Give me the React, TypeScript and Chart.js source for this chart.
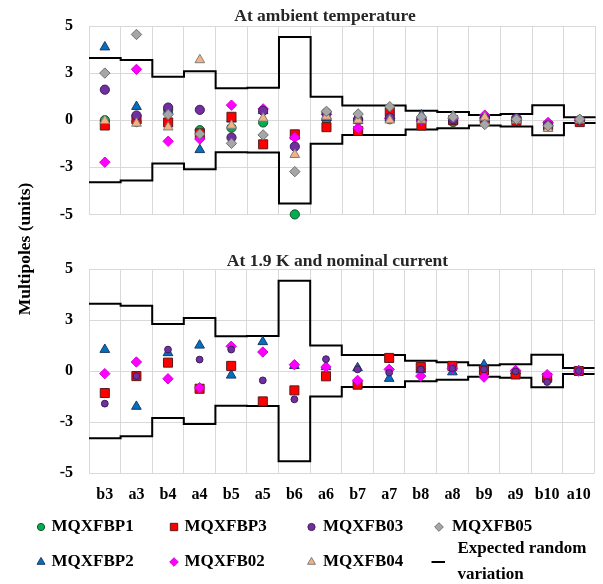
import React, { useEffect, useRef } from 'react';
import { Chart, registerables } from 'chart.js';

Chart.register(...registerables);

const FONT = '"Liberation Serif", "Times New Roman", serif';

// ---------------- data ----------------
const categories = ['b3', 'a3', 'b4', 'a4', 'b5', 'a5', 'b6', 'a6', 'b7', 'a7', 'b8', 'a8', 'b9', 'a9', 'b10', 'a10'];
const yTickValues = [-5, -2.5, 0, 2.5, 5];

// expected random variation (half-width of the band)
const expectedRandom = [3.3, 3.2, 2.3, 2.6, 1.7, 1.72, 4.42, 1.25, 0.78, 0.78, 0.5, 0.43, 0.28, 0.33, 0.8, 0.15];

// At ambient temperature
const ambMQXFBP1 = [0.0, -0.1, 0.55, -0.53, -0.4, -0.12, -5.0, 0.05, 0.0, 0.05, 0.0, -0.1, 0.1, 0.0, -0.2, 0.0];
const ambMQXFBP2 = [3.88, 0.72, 0.5, -1.57, 0.05, 0.5, -0.85, 0.13, -0.03, 0.1, 0.27, -0.05, 0.1, 0.0, -0.2, 0.0];
const ambMQXFBP3 = [-0.28, 0.05, -0.12, -0.7, 0.18, -1.28, -0.75, -0.37, -0.57, 0.45, -0.28, 0.0, 0.05, -0.03, -0.3, -0.1];
const ambMQXFB02 = [-2.23, 2.7, -1.12, -1.0, 0.8, 0.6, -0.92, 0.3, -0.42, 0.1, 0.0, 0.1, 0.27, 0.05, -0.12, 0.0];
const ambMQXFB03 = [1.62, 0.25, 0.67, 0.55, -0.92, 0.5, -1.4, 0.4, 0.05, 0.13, 0.05, 0.05, 0.1, 0.1, -0.28, 0.0];
const ambMQXFB04 = [-0.03, -0.17, -0.37, 3.2, -0.28, 0.1, -1.83, 0.2, 0.0, 0.0, 0.0, 0.22, 0.15, 0.0, -0.45, 0.0];
const ambMQXFB05 = [2.5, 4.55, 0.3, -0.73, -1.23, -0.78, -2.73, 0.47, 0.33, 0.72, 0.17, 0.17, -0.23, 0.05, -0.3, 0.05];

// At 1.9 K and nominal current
const nomMQXFBP2 = [1.05, -1.74, 0.89, 1.26, -0.21, 1.43, 0.26, 0.2, 0.15, -0.37, 0.05, -0.05, 0.3, 0.0, -0.3, 0.0];
const nomMQXFBP3 = [-1.08, -0.25, 0.41, -0.87, 0.25, -1.49, -0.95, -0.26, -0.67, 0.64, 0.2, 0.25, 0.03, -0.17, -0.33, 0.0];
const nomMQXFB02 = [-0.13, 0.44, -0.38, -0.82, 1.21, 0.93, 0.31, 0.2, -0.46, 0.08, -0.25, 0.13, -0.3, 0.03, -0.18, 0.0];
const nomMQXFB03 = [-1.6, -0.25, 1.05, 0.56, 1.05, -0.46, -1.39, 0.58, 0.08, -0.08, 0.08, 0.13, 0.08, -0.02, -0.54, 0.0];

// ---------------- styles ----------------
type Sty = { shape: string; fill: string; stroke: string; r: number; lr: number; order: number };
const ST: Record<string, Sty> = {
  MQXFBP1: { shape: 'circle', fill: '#00B050', stroke: '#1E4D2B', r: 4.6, lr: 3.6, order: 7 },
  MQXFBP2: { shape: 'triangle', fill: '#0070C0', stroke: '#1F3864', r: 5.6, lr: 4.6, order: 6 },
  MQXFBP3: { shape: 'rect', fill: '#FF0000', stroke: '#5A1A1A', r: 6.4, lr: 5.2, order: 5 },
  MQXFB02: { shape: 'rectRot', fill: '#FF00FF', stroke: '#D800D8', r: 5.2, lr: 4.3, order: 4 },
  MQXFB03: { shape: 'circle', fill: '#7030A0', stroke: '#3D1A5A', r: 4.6, lr: 3.6, order: 3 },
  MQXFB04: { shape: 'triangle', fill: '#F4B183', stroke: '#7F7F7F', r: 5.6, lr: 4.6, order: 2 },
  MQXFB05: { shape: 'rectRot', fill: '#A6A6A6', stroke: '#6F6F6F', r: 5.2, lr: 4.3, order: 1 },
};

function pointDs(label: string, data: number[], rOverride?: number) {
  const s = ST[label];
  return {
    type: 'line' as const,
    label,
    data,
    xAxisID: 'x',
    yAxisID: 'y',
    showLine: false,
    pointStyle: s.shape,
    pointRadius: rOverride ?? s.r,
    pointBackgroundColor: s.fill,
    pointBorderColor: s.stroke,
    pointBorderWidth: 1,
    clip: false as any,
    order: s.order,
  };
}

function stepDs(sign: number) {
  const pts = expectedRandom.map((v, i) => ({ x: i - 0.5, y: sign * v }));
  pts.push({ x: categories.length - 0.5, y: sign * expectedRandom[expectedRandom.length - 1] });
  return {
    type: 'line' as const,
    label: 'Expected random variation',
    data: pts,
    xAxisID: 'xl',
    yAxisID: 'y',
    stepped: 'before' as const,
    borderColor: '#000000',
    borderWidth: 2,
    pointRadius: 0,
    fill: false,
    clip: false as any,
    order: 100,
  };
}

function fmtTick(v: number) {
  const r = Math.round(Math.abs(v));
  return (v < 0 ? '-' : '') + r;
}

function makeScales(showX: boolean, xHeight: number) {
  return {
    x: {
      type: 'category' as const,
      offset: true,
      grid: { offset: true, color: '#D9D9D9', lineWidth: 1, drawTicks: false },
      border: { display: false },
      ticks: { display: showX, color: '#000', font: { family: FONT, size: 16, weight: 'bold' as const }, padding: 12, maxRotation: 0, autoSkip: false },
      afterFit: (s: any) => { s.height = xHeight; },
    },
    xl: { type: 'linear' as const, display: false, min: -0.5, max: categories.length - 0.5 },
    y: {
      type: 'linear' as const,
      min: -5,
      max: 5,
      afterBuildTicks: (s: any) => { s.ticks = yTickValues.map((v) => ({ value: v })); },
      grid: { color: '#D9D9D9', lineWidth: 1, drawTicks: false },
      border: { display: false },
      ticks: { color: '#000', font: { family: FONT, size: 16, weight: 'bold' as const }, padding: 16, callback: (v: any) => fmtTick(Number(v)) },
      afterFit: (s: any) => { s.width = 89; },
    },
  };
}

function drawMarker(ctx: CanvasRenderingContext2D, shape: string, x: number, y: number, r: number, fill: string, stroke: string) {
  ctx.save();
  ctx.beginPath();
  if (shape === 'circle') {
    ctx.arc(x, y, r, 0, Math.PI * 2);
  } else if (shape === 'rect') {
    const s = r * Math.SQRT1_2;
    ctx.rect(x - s, y - s, 2 * s, 2 * s);
  } else if (shape === 'rectRot') {
    ctx.moveTo(x, y - r);
    ctx.lineTo(x + r, y);
    ctx.lineTo(x, y + r);
    ctx.lineTo(x - r, y);
    ctx.closePath();
  } else if (shape === 'triangle') {
    let a = 0;
    ctx.moveTo(x + Math.sin(a) * r, y - Math.cos(a) * r);
    a += (2 * Math.PI) / 3;
    ctx.lineTo(x + Math.sin(a) * r, y - Math.cos(a) * r);
    a += (2 * Math.PI) / 3;
    ctx.lineTo(x + Math.sin(a) * r, y - Math.cos(a) * r);
    ctx.closePath();
  }
  ctx.fillStyle = fill;
  ctx.fill();
  ctx.lineWidth = 1;
  ctx.strokeStyle = stroke;
  ctx.stroke();
  ctx.restore();
}

const legendEntries = [
  { label: 'MQXFBP1', col: 0, row: 0 },
  { label: 'MQXFBP2', col: 0, row: 1 },
  { label: 'MQXFBP3', col: 1, row: 0 },
  { label: 'MQXFB02', col: 1, row: 1 },
  { label: 'MQXFB03', col: 2, row: 0 },
  { label: 'MQXFB04', col: 2, row: 1 },
  { label: 'MQXFB05', col: 3, row: 0 },
];
const legendMarkerX = [41, 174, 311.5, 439];
const legendTextX = [51.5, 184.5, 323, 452];
const legendRowY = [527, 562];

const topTitlePlugin = {
  id: 'topTitle',
  afterDraw(chart: any) {
    const ctx = chart.ctx as CanvasRenderingContext2D;
    ctx.save();
    ctx.fillStyle = '#262626';
    ctx.font = `bold 17.5px ${FONT}`;
    ctx.textAlign = 'center';
    ctx.textBaseline = 'middle';
    ctx.fillText('At ambient temperature', 325, 16);
    ctx.restore();
  },
};

const bottomPlugin = {
  id: 'bottomDecor',
  afterDraw(chart: any) {
    const ctx = chart.ctx as CanvasRenderingContext2D;
    ctx.save();
    ctx.fillStyle = '#262626';
    ctx.font = `bold 17.5px ${FONT}`;
    ctx.textAlign = 'center';
    ctx.textBaseline = 'middle';
    ctx.fillText('At 1.9 K and nominal current', 337.5, 261);

    // y axis title
    ctx.save();
    ctx.translate(25, 249);
    ctx.rotate(-Math.PI / 2);
    ctx.fillStyle = '#000';
    ctx.font = `bold 17.5px ${FONT}`;
    ctx.fillText('Multipoles (units)', 0, 0);
    ctx.restore();

    // legend
    ctx.font = `bold 17px ${FONT}`;
    ctx.textAlign = 'left';
    ctx.fillStyle = '#000';
    for (const e of legendEntries) {
      const s = ST[e.label];
      const y = legendRowY[e.row];
      drawMarker(ctx, s.shape, legendMarkerX[e.col], y, s.lr, s.fill, s.stroke);
      ctx.fillText(e.label, legendTextX[e.col], y);
    }
    ctx.beginPath();
    ctx.moveTo(431.5, legendRowY[1]);
    ctx.lineTo(445, legendRowY[1]);
    ctx.lineWidth = 2;
    ctx.strokeStyle = '#000';
    ctx.stroke();
    ctx.fillText('Expected random', 457.5, 549);
    ctx.fillText('variation', 457.5, 575);
    ctx.restore();
  },
};

export default function App() {
  const topRef = useRef<HTMLCanvasElement | null>(null);
  const botRef = useRef<HTMLCanvasElement | null>(null);

  useEffect(() => {
    if (!topRef.current || !botRef.current) return;
    Chart.defaults.font.family = FONT;

    const top = new Chart(topRef.current, {
      type: 'line',
      data: {
        labels: categories,
        datasets: [
          pointDs('MQXFBP1', ambMQXFBP1),
          pointDs('MQXFBP2', ambMQXFBP2),
          pointDs('MQXFBP3', ambMQXFBP3),
          pointDs('MQXFB02', ambMQXFB02),
          pointDs('MQXFB03', ambMQXFB03),
          pointDs('MQXFB04', ambMQXFB04),
          pointDs('MQXFB05', ambMQXFB05),
          stepDs(1),
          stepDs(-1),
        ] as any,
      },
      options: {
        responsive: false,
        animation: false,
        events: [],
        layout: { padding: { top: 26, right: 7, left: 0, bottom: 0 } },
        plugins: { legend: { display: false }, tooltip: { enabled: false } },
        scales: makeScales(false, 14) as any,
      },
      plugins: [topTitlePlugin],
    });

    const bot = new Chart(botRef.current, {
      type: 'line',
      data: {
        labels: categories,
        datasets: [
          pointDs('MQXFBP2', nomMQXFBP2),
          pointDs('MQXFBP3', nomMQXFBP3),
          pointDs('MQXFB02', nomMQXFB02),
          pointDs('MQXFB03', nomMQXFB03, 3.4),
          stepDs(1),
          stepDs(-1),
        ] as any,
      },
      options: {
        responsive: false,
        animation: false,
        events: [],
        layout: { padding: { top: 269, right: 7, left: 0, bottom: 0 } },
        plugins: { legend: { display: false }, tooltip: { enabled: false } },
        scales: makeScales(true, 111) as any,
      },
      plugins: [bottomPlugin],
    });

    return () => {
      top.destroy();
      bot.destroy();
    };
  }, []);

  return (
    <div style={{ position: 'fixed', left: 0, top: 0, width: 603, height: 584, background: '#fff', overflow: 'hidden' }}>
      <canvas ref={botRef} width={603} height={584} style={{ position: 'absolute', left: 0, top: 0, display: 'block' }} />
      <canvas ref={topRef} width={603} height={240} style={{ position: 'absolute', left: 0, top: 0, display: 'block' }} />
    </div>
  );
}
